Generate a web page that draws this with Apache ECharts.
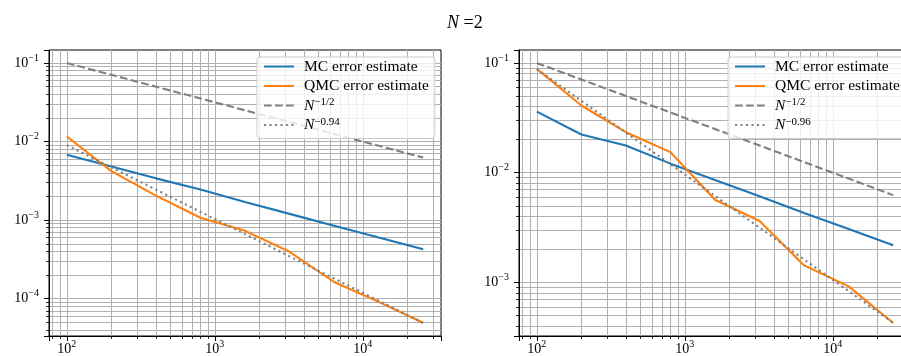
<!DOCTYPE html>
<html>
<head>
<meta charset="utf-8">
<script src="https://cdn.jsdelivr.net/npm/echarts@6/dist/echarts.min.js"></script>
<style>
  html, body { margin: 0; padding: 0; background: #fff; }
  #chart { width: 901px; height: 356px; }
</style>
</head>
<body>
<div id="chart"></div>
<script>
// sample sizes (x values, same for both panels)
const sampleSizes = [100, 200, 400, 800, 1600, 3200, 6400, 12800, 25600];

// left panel
const mcLeft = [6.8e-3, 4.8e-3, 3.4e-3, 2.45e-3, 1.7e-3, 1.2e-3, 8.5e-4, 6.0e-4, 4.25e-4];
const qmcLeft = [1.16e-2, 4.2e-3, 2.05e-3, 1.07e-3, 7.3e-4, 3.95e-4, 1.63e-4, 9.1e-5, 4.93e-5];
const halfLeft = [0.1, 0.0707, 0.05, 0.0354, 0.025, 0.0177, 0.0125, 0.00884, 0.00625];
const fitLeft = [9.0e-3, 4.69e-3, 2.445e-3, 1.274e-3, 6.64e-4, 3.46e-4, 1.804e-4, 9.4e-5, 4.9e-5];

// right panel
const mcRight = [3.6e-2, 2.23e-2, 1.77e-2, 1.21e-2, 8.6e-3, 6.1e-3, 4.3e-3, 3.07e-3, 2.18e-3];
const qmcRight = [8.85e-2, 4.1e-2, 2.34e-2, 1.54e-2, 5.68e-3, 3.63e-3, 1.43e-3, 9.2e-4, 4.27e-4];
const halfRight = [0.1, 0.0707, 0.05, 0.0354, 0.025, 0.0177, 0.0125, 0.00884, 0.00625];
const fitRight = [8.8e-2, 4.52e-2, 2.32e-2, 1.195e-2, 6.14e-3, 3.16e-3, 1.62e-3, 8.35e-4, 4.29e-4];

const legendLeft = ['MC error estimate', 'QMC error estimate', 'N^-1/2', 'N^-0.94'];
const legendRight = ['MC error estimate', 'QMC error estimate', 'N^-1/2', 'N^-0.96'];

const serif = '"Liberation Serif", "DejaVu Serif", serif';
const gridColor = '#b0b0b0';

function pairs(ys) {
  return sampleSizes.map((n, i) => [n, ys[i]]);
}

// matplotlib style 5% margin, in log space
function logRange(lists) {
  const all = [].concat(...lists);
  const lo = Math.log10(Math.min(...all));
  const hi = Math.log10(Math.max(...all));
  const pad = (hi - lo) * 0.05;
  return [Math.pow(10, lo - pad), Math.pow(10, hi + pad)];
}

const xRange = logRange([sampleSizes]);
const yRangeLeft = logRange([mcLeft, qmcLeft, halfLeft, fitLeft]);
const yRangeRight = logRange([mcRight, qmcRight, halfRight, fitRight]);

// 10^k tick labels, exponent raised with rich text
const labelRich = {
  b: { fontFamily: serif, fontSize: 14, lineHeight: 20, color: '#000', verticalAlign: 'middle' },
  s: { fontFamily: serif, fontSize: 10, lineHeight: 12, color: '#000', verticalAlign: 'top' }
};

function powLabel(v) {
  const l = Math.log10(v);
  const e = Math.round(l);
  if (Math.abs(l - e) > 1e-6) return '';
  return '{b|10}{s|' + (e < 0 ? '\u2212' + (-e) : e) + '}';
}

function logAxis(gi, range, margin) {
  return {
    type: 'log',
    logBase: 10,
    gridIndex: gi,
    min: range[0],
    max: range[1],
    axisLine: { show: true, onZero: false, lineStyle: { color: '#000', width: 1 } },
    axisTick: { show: true, length: 5, lineStyle: { color: '#000', width: 1 } },
    minorTick: { show: true, splitNumber: 9, length: 3, lineStyle: { color: '#000', width: 0.8 } },
    splitLine: { show: true, showMinLine: false, showMaxLine: false, lineStyle: { color: gridColor, width: 1 } },
    minorSplitLine: { show: true, lineStyle: { color: gridColor, width: 1 } },
    axisLabel: { formatter: powLabel, rich: labelRich, margin: margin, hideOverlap: false }
  };
}

const legendRich = {
  i: { fontFamily: serif, fontStyle: 'italic', fontSize: 15.5, lineHeight: 17, color: '#000', verticalAlign: 'middle' },
  s: { fontFamily: serif, fontSize: 11, lineHeight: 9, color: '#000', verticalAlign: 'top' }
};

function legendLabel(name) {
  if (name.indexOf('N^') === 0) {
    return '{i|N}{s|' + name.slice(2).replace('-', '\u2212') + '}';
  }
  return name;
}

function legendFor(names, left, padRight) {
  return {
    orient: 'vertical',
    left: left,
    top: 57,
    data: names,
    itemWidth: 30,
    itemHeight: 14,
    itemGap: 2.5,
    padding: [1, padRight, 5, 6],
    backgroundColor: 'rgba(255,255,255,0.8)',
    borderColor: '#cccccc',
    borderWidth: 1,
    borderRadius: 3,
    itemStyle: { opacity: 0 },
    selectedMode: false,
    formatter: legendLabel,
    textStyle: { fontFamily: serif, fontSize: 15.5, lineHeight: 17, color: '#000', padding: [0, 0, 0, 5], rich: legendRich }
  };
}

function lineSeries(name, ys, gi, color, type) {
  return {
    name: name,
    type: 'line',
    xAxisIndex: gi,
    yAxisIndex: gi,
    data: pairs(ys),
    symbol: 'none',
    showSymbol: false,
    silent: true,
    clip: true,
    lineStyle: { color: color, width: 2.1, type: type, cap: 'butt' },
    itemStyle: { color: color }
  };
}

const chart = echarts.init(document.getElementById('chart'), null, { renderer: 'canvas' });

const option = {
  animation: false,
  backgroundColor: '#fff',
  title: {
    text: '{i|N} =2',
    left: 442,
    top: 9,
    textStyle: {
      fontFamily: serif, fontSize: 18, fontWeight: 'normal', color: '#000',
      rich: { i: { fontFamily: serif, fontSize: 18, fontStyle: 'italic', color: '#000' } }
    }
  },
  grid: [
    { left: 49, top: 50, width: 392, height: 286, show: true, borderColor: '#000', borderWidth: 1, containLabel: false, outerBoundsMode: 'none' },
    { left: 519, top: 50, width: 392, height: 286, show: true, borderColor: '#000', borderWidth: 1, containLabel: false, outerBoundsMode: 'none' }
  ],
  xAxis: [logAxis(0, xRange, 3.5), logAxis(1, xRange, 3.5)],
  yAxis: [logAxis(0, yRangeLeft, 10), logAxis(1, yRangeRight, 10)],
  legend: [legendFor(legendLeft, 257, 6), legendFor(legendRight, 728, 12)],
  series: [
    lineSeries('MC error estimate', mcLeft, 0, '#1f77b4', 'solid'),
    lineSeries('QMC error estimate', qmcLeft, 0, '#ff7f0e', 'solid'),
    lineSeries('N^-1/2', halfLeft, 0, '#808080', [7.7, 3.3]),
    lineSeries('N^-0.94', fitLeft, 0, '#808080', [2.1, 3.4]),
    lineSeries('MC error estimate', mcRight, 1, '#1f77b4', 'solid'),
    lineSeries('QMC error estimate', qmcRight, 1, '#ff7f0e', 'solid'),
    lineSeries('N^-1/2', halfRight, 1, '#808080', [7.7, 3.3]),
    lineSeries('N^-0.96', fitRight, 1, '#808080', [2.1, 3.4])
  ]
};

chart.setOption(option);
</script>
</body>
</html>
